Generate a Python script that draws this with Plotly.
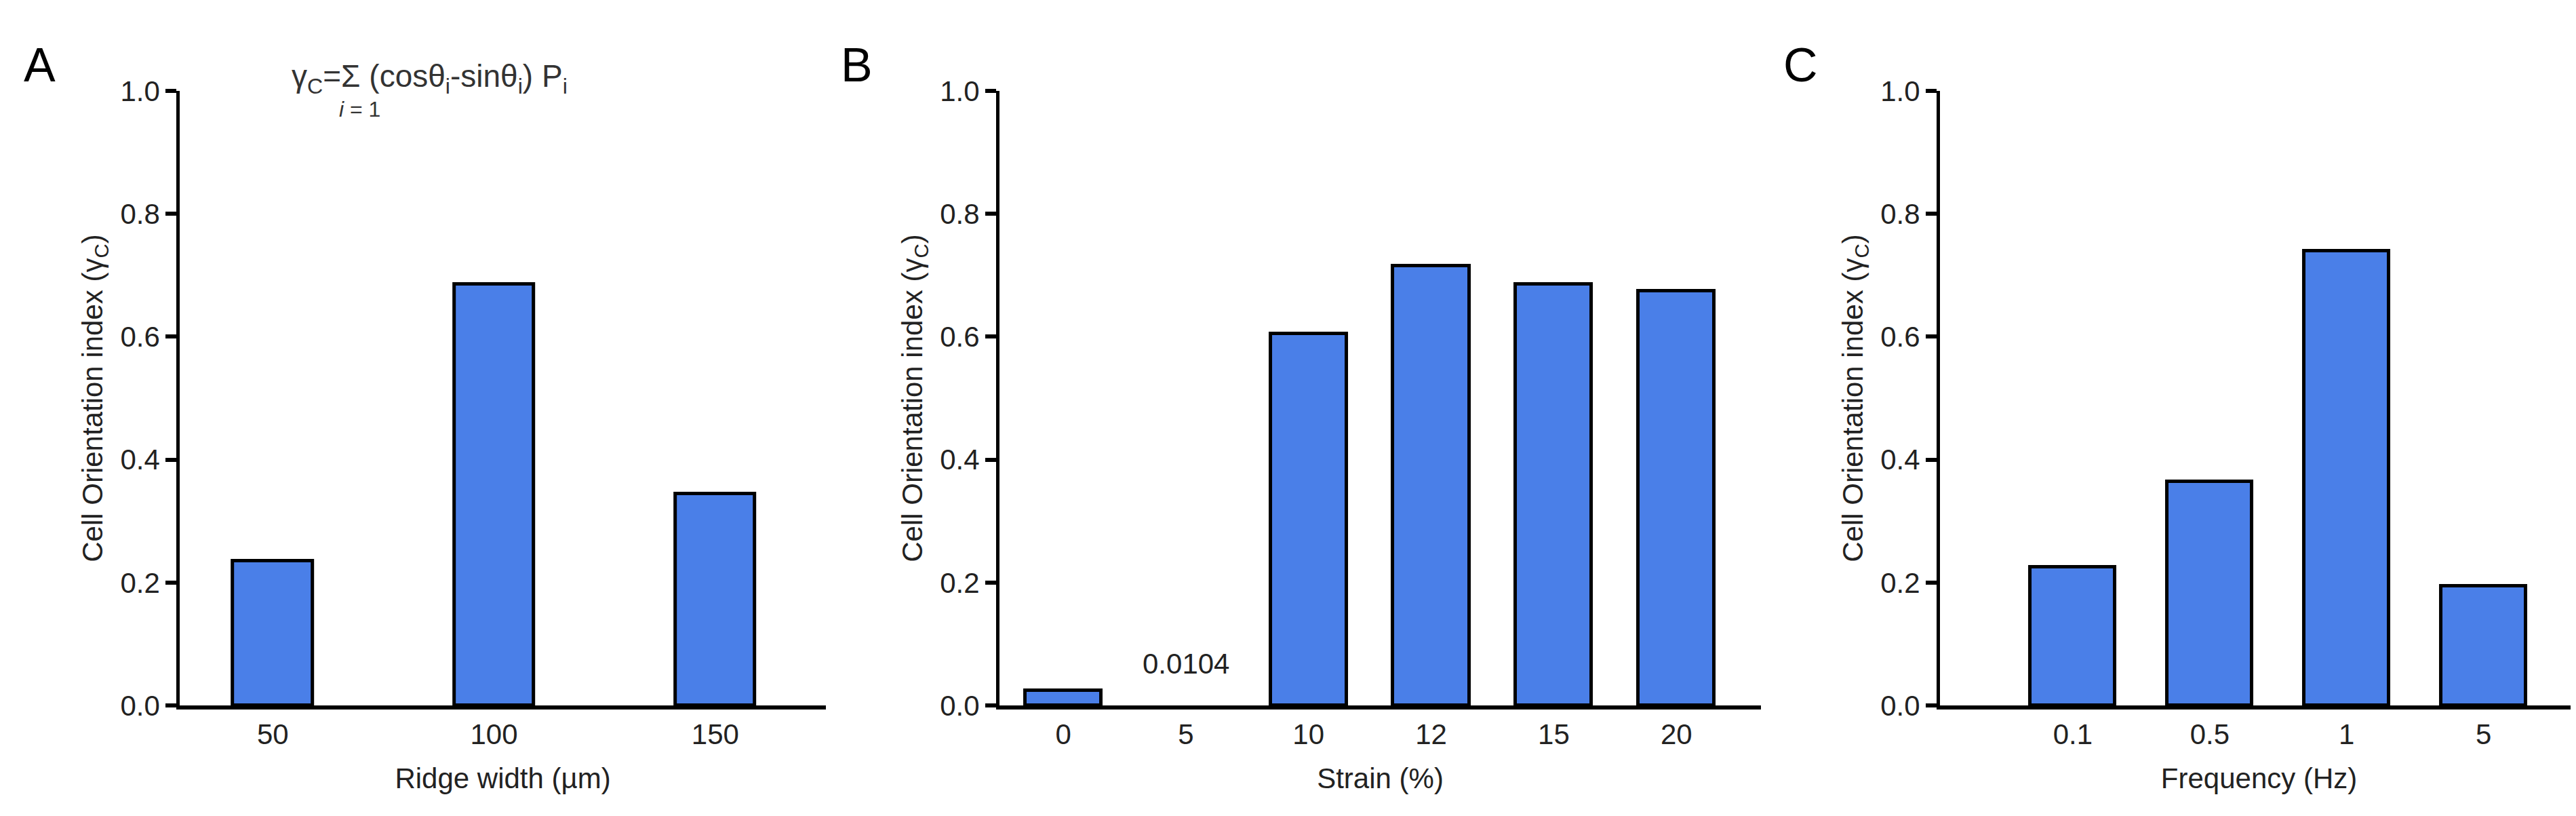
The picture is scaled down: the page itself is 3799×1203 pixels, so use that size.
import plotly.graph_objects as go

ridge_labels = ["50", "100", "150"]
ridge_values = [0.235, 0.685, 0.345]

strain_labels = ["0", "5", "10", "12", "15", "20"]
strain_values = [0.025, None, 0.605, 0.715, 0.685, 0.675]
strain_note = "0.0104"

freq_labels = ["0.1", "0.5", "1", "5"]
freq_values = [0.225, 0.365, 0.74, 0.195]

y_ticks = [0.0, 0.2, 0.4, 0.6, 0.8, 1.0]
y_title = "Cell Orientation index (γ<sub>C</sub>)"

FONT = "Liberation Sans, Arial, sans-serif"
BLUE = "#4a7fe8"

fig = go.Figure()

panels = [
    (ridge_labels, ridge_values, "", "", 0.36, [0.0677, 0.3185], [-0.42, 2.5], "Ridge width (µm)"),
    (strain_labels, strain_values, "2", "2", 0.62, [0.3859, 0.6815], [-0.52, 5.69], "Strain (%)"),
    (freq_labels, freq_values, "3", "3", 0.62, [0.751, 0.9987], [-0.97, 3.69], "Frequency (Hz)"),
]

for labels, values, xs, ys, width, dom, rng, xtitle in panels:
    fig.add_trace(go.Bar(
        x=labels, y=values, width=width,
        marker=dict(color=BLUE, line=dict(color="black", width=5)),
        xaxis="x" + xs, yaxis="y" + ys, showlegend=False,
    ))
    fig.layout["xaxis" + xs] = dict(
        domain=dom, range=rng, type="category", anchor="y" + ys,
        showline=True, linecolor="black", linewidth=6, ticks="",
        tickfont=dict(size=42, color="#222"), showgrid=False,
        title=dict(text=xtitle, font=dict(size=42, color="#222"), standoff=30),
    )
    fig.layout["yaxis" + ys] = dict(
        domain=[0.127, 0.911], range=[0, 1.0], anchor="x" + xs,
        tickvals=y_ticks, ticktext=["%.1f" % v for v in y_ticks],
        showline=True, linecolor="black", linewidth=5,
        ticks="outside", ticklen=16, tickwidth=6, tickcolor="black",
        tickfont=dict(size=42, color="#222"), showgrid=False, zeroline=False,
        title=dict(text=y_title, font=dict(size=42, color="#222"), standoff=14),
    )

# category index 1 is the "5" strain bar
fig.add_annotation(x=1, y=0.04, xref="x2", yref="y2", text=strain_note,
                   showarrow=False, yanchor="bottom", font=dict(size=42, color="#222"))

for letter, px in [("A", 25), ("B", 1230), ("C", 2620)]:
    fig.add_annotation(x=px / 3799, y=1 - 25 / 1203, xref="paper", yref="paper",
                       text=letter, showarrow=False, xanchor="left", yanchor="top",
                       font=dict(size=70, color="black"))

fig.add_annotation(x=420 / 3799, y=1 - 88 / 1203, xref="paper", yref="paper",
                   text="γ<sub>C</sub>=Σ (cosθ<sub>i</sub>-sinθ<sub>i</sub>) P<sub>i</sub>",
                   showarrow=False, xanchor="left", yanchor="middle",
                   font=dict(size=46, color="#333"))
fig.add_annotation(x=490 / 3799, y=1 - 135 / 1203, xref="paper", yref="paper",
                   text="<i>i</i> = 1", showarrow=False, xanchor="left", yanchor="middle",
                   font=dict(size=32, color="#333"))

fig.update_layout(
    width=3799, height=1203,
    margin=dict(l=0, r=0, t=0, b=0),
    paper_bgcolor="white", plot_bgcolor="white",
    font=dict(family=FONT),
    bargap=0,
)

fig.write_html("out.html")
